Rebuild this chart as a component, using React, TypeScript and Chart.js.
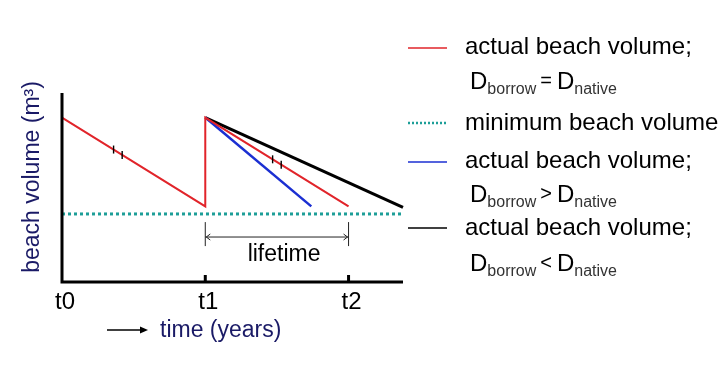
import React, { useEffect, useRef } from "react";
import { Chart, registerables } from "chart.js";

Chart.register(...registerables);

// ---- data ----
const tickValues = [0, 1, 2];
const tickLabels = ["t0", "t1", "t2"];
const equalSeries = [
  { x: 0, y: 8.7 },
  { x: 1, y: 4.0 },
  { x: 1, y: 8.7 },
  { x: 2, y: 4.0 },
];
const minimumSeries = [
  { x: 0, y: 3.6 },
  { x: 2.38, y: 3.6 },
];
const coarserSeries = [
  { x: 1, y: 8.7 },
  { x: 1.74, y: 4.0 },
];
const finerSeries = [
  { x: 1, y: 8.7 },
  { x: 2.38, y: 3.95 },
];
const hatchX = [0.36, 0.42, 1.47, 1.53];
const lifetimeStart = 1;
const lifetimeEnd = 2;
const lifetimeLabel = "lifetime";
const yTitle = "beach volume (m\u00B3)";
const xTitle = "time (years)";
const legendMain = [
  "actual beach volume;",
  "minimum beach volume",
  "actual beach volume;",
  "actual beach volume;",
];
const legendSub = [
  { op: "=", a: "borrow", b: "native" },
  null,
  { op: ">", a: "borrow", b: "native" },
  { op: "<", a: "borrow", b: "native" },
];

const RED = "#e1242a";
const BLUE = "#1b2fd2";
const TEAL = "#1d9e98";
const BLACK = "#000000";
const NAVY = "#1a1a66";
const FONT = "'Liberation Sans', Arial, sans-serif";

function yOnLine(pts: { x: number; y: number }[], x: number) {
  for (let i = 0; i < pts.length - 1; i++) {
    const p0 = pts[i];
    const p1 = pts[i + 1];
    if (p0.x !== p1.x && x >= Math.min(p0.x, p1.x) && x <= Math.max(p0.x, p1.x)) {
      return p0.y + ((x - p0.x) / (p1.x - p0.x)) * (p1.y - p0.y);
    }
  }
  return pts[0].y;
}

const decorPlugin = {
  id: "decor",
  afterDatasetsDraw(chart: any) {
    const ctx = chart.ctx as CanvasRenderingContext2D;
    const xs = chart.scales.x;
    const ys = chart.scales.y;
    const { left, right, top, bottom } = chart.chartArea;
    ctx.save();

    // hatch marks on red line
    ctx.strokeStyle = BLACK;
    ctx.lineWidth = 1.4;
    hatchX.forEach((hx) => {
      const px = xs.getPixelForValue(hx);
      const py = ys.getPixelForValue(yOnLine(equalSeries, hx));
      ctx.beginPath();
      ctx.moveTo(px, py - 4);
      ctx.lineTo(px, py + 4);
      ctx.stroke();
    });

    // axes
    ctx.strokeStyle = BLACK;
    ctx.lineWidth = 3;
    ctx.lineCap = "butt";
    ctx.beginPath();
    ctx.moveTo(left, top);
    ctx.lineTo(left, bottom);
    ctx.lineTo(right, bottom);
    ctx.stroke();

    // tick marks (inside) and labels
    ctx.fillStyle = BLACK;
    ctx.font = `24px ${FONT}`;
    ctx.textAlign = "center";
    ctx.textBaseline = "middle";
    tickValues.forEach((v, i) => {
      const px = xs.getPixelForValue(v);
      if (v !== 0) {
        ctx.beginPath();
        ctx.moveTo(px, bottom - 7);
        ctx.lineTo(px, bottom);
        ctx.stroke();
      }
      ctx.fillText(tickLabels[i], px + 3, bottom + 20);
    });

    // lifetime bracket
    const l1 = xs.getPixelForValue(lifetimeStart);
    const l2 = xs.getPixelForValue(lifetimeEnd);
    const bTop = ys.getPixelForValue(3.17);
    const bBot = ys.getPixelForValue(1.9);
    const bMid = ys.getPixelForValue(2.38);
    ctx.lineWidth = 1;
    ctx.strokeStyle = "#222";
    ctx.beginPath();
    ctx.moveTo(l1, bTop);
    ctx.lineTo(l1, bBot);
    ctx.moveTo(l2, bTop);
    ctx.lineTo(l2, bBot);
    ctx.moveTo(l1, bMid);
    ctx.lineTo(l2, bMid);
    ctx.moveTo(l1 + 5, bMid - 3);
    ctx.lineTo(l1 + 1, bMid);
    ctx.lineTo(l1 + 5, bMid + 3);
    ctx.moveTo(l2 - 5, bMid - 3);
    ctx.lineTo(l2 - 1, bMid);
    ctx.lineTo(l2 - 5, bMid + 3);
    ctx.stroke();
    ctx.fillStyle = BLACK;
    ctx.font = `23px ${FONT}`;
    ctx.fillText(lifetimeLabel, xs.getPixelForValue(1.55), ys.getPixelForValue(1.43));

    // y title
    ctx.save();
    ctx.translate(left - 29, top + 84);
    ctx.rotate(-Math.PI / 2);
    ctx.fillStyle = NAVY;
    ctx.font = `23px ${FONT}`;
    ctx.textAlign = "center";
    ctx.textBaseline = "middle";
    ctx.fillText(yTitle, 0, 0);
    ctx.restore();

    // x title with arrow
    const ay = bottom + 48;
    ctx.strokeStyle = BLACK;
    ctx.lineWidth = 1.5;
    ctx.beginPath();
    ctx.moveTo(left + 45, ay);
    ctx.lineTo(left + 80, ay);
    ctx.stroke();
    ctx.fillStyle = BLACK;
    ctx.beginPath();
    ctx.moveTo(left + 86, ay);
    ctx.lineTo(left + 78, ay - 3.5);
    ctx.lineTo(left + 78, ay + 3.5);
    ctx.closePath();
    ctx.fill();
    ctx.fillStyle = NAVY;
    ctx.font = `23px ${FONT}`;
    ctx.textAlign = "left";
    ctx.fillText(xTitle, left + 98, ay + 1);

    // legend
    const lgX = 408;
    const lgLen = 39;
    const txtX = 465;
    const rowY = [47, 123, 161, 228];
    const lineY = [48, 123, 162, 228];
    const subY = [89, 0, 202, 271];
    const styles = [
      { c: RED, dash: [] as number[], w: 1.5 },
      { c: TEAL, dash: [2, 2], w: 2.5 },
      { c: BLUE, dash: [] as number[], w: 1.5 },
      { c: BLACK, dash: [] as number[], w: 1.5 },
    ];
    legendMain.forEach((t, i) => {
      const s = styles[i];
      ctx.strokeStyle = s.c;
      ctx.lineWidth = s.w;
      ctx.setLineDash(s.dash);
      ctx.beginPath();
      ctx.moveTo(lgX, lineY[i]);
      ctx.lineTo(lgX + lgLen, lineY[i]);
      ctx.stroke();
      ctx.setLineDash([]);
      ctx.fillStyle = BLACK;
      ctx.font = `24px ${FONT}`;
      ctx.textAlign = "left";
      ctx.textBaseline = "middle";
      ctx.fillText(t, txtX, rowY[i]);
      const sub = legendSub[i];
      if (sub) {
        const by = subY[i];
        let x = 470;
        ctx.textBaseline = "alphabetic";
        ctx.fillStyle = BLACK;
        ctx.font = `24px ${FONT}`;
        ctx.fillText("D", x, by);
        x += ctx.measureText("D").width;
        ctx.fillStyle = "#333";
        ctx.font = `16px ${FONT}`;
        ctx.fillText(sub.a, x, by + 5);
        x += ctx.measureText(sub.a).width + 4;
        ctx.fillStyle = BLACK;
        ctx.font = `20px ${FONT}`;
        ctx.fillText(sub.op, x, by - 2);
        x += ctx.measureText(sub.op).width + 5;
        ctx.font = `24px ${FONT}`;
        ctx.fillText("D", x, by);
        x += ctx.measureText("D").width;
        ctx.fillStyle = "#333";
        ctx.font = `16px ${FONT}`;
        ctx.fillText(sub.b, x, by + 5);
      }
    });

    ctx.restore();
  },
};

export default function App() {
  const ref = useRef<HTMLCanvasElement | null>(null);
  useEffect(() => {
    if (!ref.current) return;
    const chart = new Chart(ref.current, {
      type: "scatter",
      data: {
        datasets: [
          { label: "equal", data: equalSeries, showLine: true, borderColor: RED, borderWidth: 2, pointRadius: 0, clip: false } as any,
          { label: "minimum", data: minimumSeries, showLine: true, borderColor: TEAL, borderWidth: 3, borderDash: [3, 3], pointRadius: 0, clip: false } as any,
          { label: "coarser", data: coarserSeries, showLine: true, borderColor: BLUE, borderWidth: 2.5, pointRadius: 0, clip: false } as any,
          { label: "finer", data: finerSeries, showLine: true, borderColor: BLACK, borderWidth: 3, pointRadius: 0, clip: false } as any,
        ],
      },
      options: {
        responsive: false,
        animation: false,
        events: [],
        layout: { padding: { left: 62, top: 93, right: 325, bottom: 98 } },
        plugins: { legend: { display: false }, tooltip: { enabled: false } },
        scales: {
          x: { type: "linear", min: 0, max: 2.38, display: false },
          y: { type: "linear", min: 0, max: 10, display: false },
        },
      },
      plugins: [decorPlugin],
    });
    return () => chart.destroy();
  }, []);
  return (
    <div style={{ position: "fixed", left: 0, top: 0, width: 728, height: 380, background: "#fff" }}>
      <canvas ref={ref} width={728} height={380} />
    </div>
  );
}
